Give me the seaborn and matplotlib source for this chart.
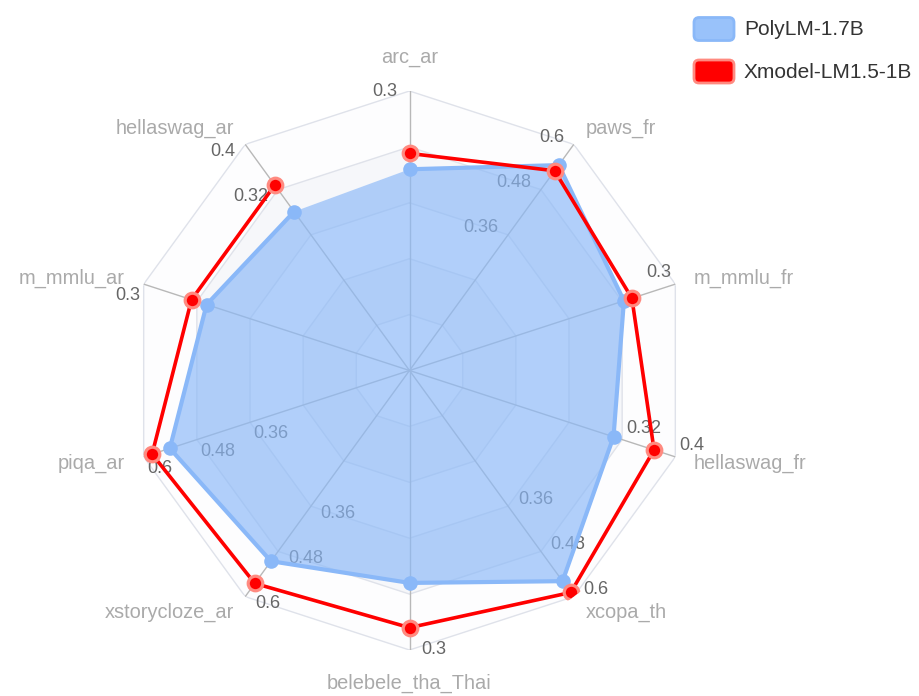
import numpy as np
import pandas as pd
import seaborn as sns
import matplotlib
matplotlib.use("Agg")
import matplotlib.pyplot as plt
from matplotlib.patches import FancyBboxPatch

# ---------------- data ----------------
indicators = ['arc_ar', 'paws_fr', 'm_mmlu_fr', 'hellaswag_fr', 'xcopa_th',
              'belebele_tha_Thai', 'xstorycloze_ar', 'piqa_ar', 'm_mmlu_ar', 'hellaswag_ar']
maxima = [0.3, 0.6, 0.3, 0.4, 0.6, 0.3, 0.6, 0.6, 0.3, 0.4]
polylm = [0.216, 0.545, 0.242, 0.307, 0.559, 0.228, 0.506, 0.541, 0.229, 0.281]
xmodel = [0.233, 0.530, 0.251, 0.368, 0.589, 0.276, 0.565, 0.581, 0.246, 0.328]
series_names = ['PolyLM-1.7B', 'Xmodel-LM1.5-1B']
label_min = 0.3  # axis labels below this are hidden

sns.set_theme(style='white')
plt.rcParams['font.family'] = ['Liberation Sans', 'DejaVu Sans']

W, H = 919, 696
fig = plt.figure(figsize=(W / 100, H / 100), dpi=100)
cx, cy, R = 409.5, 370.5, 279.5
ax = fig.add_axes([(cx - R) / W, 1 - (cy + R) / H, 2 * R / W, 2 * R / H], projection='polar')
ax.set_theta_zero_location('N')
ax.set_theta_direction(-1)
ax.set_ylim(0, 1)
ax.grid(False)
ax.set_xticks([])
ax.set_yticks([])
ax.spines['polar'].set_visible(False)
ax.patch.set_alpha(0)

n = len(indicators)
theta = np.array([2 * np.pi * i / n for i in range(n)])
theta_c = np.append(theta, theta[0])

# split areas (outer first)
area_cols = ['#fdfdfe', '#f6f7fa']
for k in range(5, 0, -1):
    r = k / 5
    ax.fill(theta_c, [r] * (n + 1), color=area_cols[(5 - k) % 2], zorder=0.5, lw=0)
# split lines
for k in range(1, 6):
    r = k / 5
    ax.plot(theta_c, [r] * (n + 1), color='#dfe2ea', lw=1, zorder=1)
# spokes
for t in theta:
    ax.plot([t, t], [0, 1], color='#b8b8b8', lw=1, zorder=1.2)

# axis labels
for i, t in enumerate(theta):
    px, py = -np.cos(t), np.sin(t)  # perpendicular direction (y up)
    ha = 'right' if px < -0.05 else ('left' if px > 0.05 else 'center')
    for k in range(1, 6):
        v = maxima[i] * k / 5
        if v >= label_min - 1e-9:
            ax.annotate('%g' % round(v, 4), xy=(t, k / 5), xytext=(12 * px, 12 * py),
                        textcoords='offset pixels', ha=ha, va='center', fontsize=13,
                        color='#666666', zorder=2.5, annotation_clip=False)

# indicator names
for i, t in enumerate(theta):
    s = np.sin(t)
    ha = 'left' if s > 0.05 else ('right' if s < -0.05 else 'center')
    rr = 1.07 if abs(s) > 0.05 else 1.12
    ax.text(t, rr, indicators[i], ha=ha, va='center', fontsize=14.4, color='#aaaaaa',
            clip_on=False)

# series
df = pd.DataFrame({
    'theta': np.concatenate([theta_c, theta_c]),
    'r': np.concatenate([np.append(np.array(polylm) / np.array(maxima), polylm[0] / maxima[0]),
                         np.append(np.array(xmodel) / np.array(maxima), xmodel[0] / maxima[0])]),
    'model': [series_names[0]] * (n + 1) + [series_names[1]] * (n + 1),
})
blue = '#8ab8f8'
red = '#ff0000'
d0 = df[df.model == series_names[0]]
ax.fill(d0.theta, d0.r, color=blue, alpha=0.66, lw=0, zorder=3)
sns.lineplot(data=d0, x='theta', y='r', sort=False, color=blue, lw=3, marker='o',
             markersize=10.5, markeredgewidth=0, ax=ax, legend=False, zorder=4)
d1 = df[df.model == series_names[1]]
sns.lineplot(data=d1, x='theta', y='r', sort=False, color=red, lw=2.6, marker='o',
             markersize=10.5, markeredgewidth=2.3, markeredgecolor='#ff8a80',
             markerfacecolor=red, ax=ax, legend=False, zorder=5)
ax.set_xlabel('')
ax.set_ylabel('')
ax.set_ylim(0, 1)

# legend
ov = fig.add_axes([0, 0, 1, 1])
ov.set_xlim(0, W)
ov.set_ylim(H, 0)
ov.axis('off')
ov.patch.set_alpha(0)
leg = [(series_names[0], '#99c2fa', '#8ab8f8', 29), (series_names[1], red, '#ff8a80', 71.5)]
for name, fc, ec, yc in leg:
    ov.add_patch(FancyBboxPatch((694, yc - 11.5), 40, 23,
                                boxstyle='round,pad=0,rounding_size=5',
                                fc=fc, ec=ec, lw=2))
    ov.text(744, yc + 0.5, name, ha='left', va='center', fontsize=15, color='#333333')

fig.savefig('out.png', dpi=100)
